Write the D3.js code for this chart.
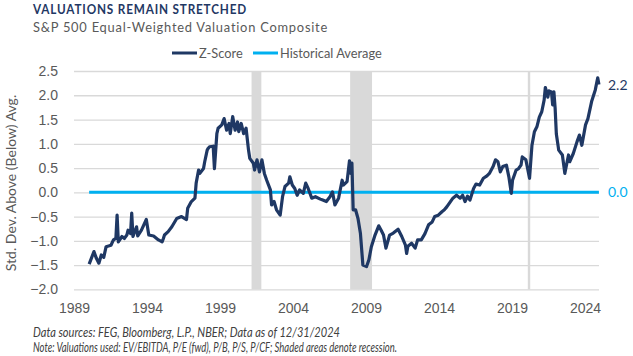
<!DOCTYPE html>
<html><head><meta charset="utf-8">
<script src="https://cdn.jsdelivr.net/npm/d3@7"></script>
<style>
html,body{margin:0;padding:0;background:#fff;}
svg{display:block;font-family:Lato,"Open Sans",sans-serif;}
</style></head>
<body>
<svg id="chart" width="633" height="356"></svg>
<script>
const dates = ["1990-01","1990-05","1990-07","1990-09","1990-11","1991-01","1991-03","1991-07","1991-09","1991-11","1991-12",
"1992-01","1992-04","1992-06","1992-08","1992-09","1992-11","1992-12","1993-01","1993-04","1993-05","1993-08","1993-12",
"1994-02","1994-06","1994-10","1995-01","1995-02","1995-03","1995-06","1995-09","1996-01","1996-05","1996-09","1996-10",
"1997-01","1997-04","1997-05","1997-07","1997-08","1997-11","1997-12","1998-02","1998-03","1998-04","1998-07","1998-08","1998-10","1998-11",
"1999-02","1999-04","1999-06","1999-08","1999-09","1999-11","2000-01","2000-03","2000-04","2000-06","2000-08","2000-10","2000-12",
"2001-01","2001-04","2001-05","2001-07","2001-09","2001-11","2002-01","2002-03","2002-06","2002-07","2002-09","2002-11",
"2003-02","2003-04","2003-06","2003-09","2003-10","2003-12","2004-02","2004-04","2004-06","2004-09","2004-11",
"2005-01","2005-04","2005-07","2005-11","2006-01","2006-04","2006-07","2006-09","2006-11","2007-02","2007-05","2007-06","2007-09","2007-11","2007-12",
"2008-01","2008-02","2008-04","2008-06","2008-08","2008-10","2009-01","2009-03","2009-05","2009-08","2009-11",
"2010-01","2010-03","2010-05","2010-08","2010-11","2011-03","2011-06","2011-09","2011-10","2011-11",
"2012-02","2012-05","2012-07","2012-10","2013-01","2013-04","2013-07","2013-09","2013-12",
"2014-03","2014-05","2014-07","2014-10","2014-12","2015-03","2015-06","2015-08","2015-10","2015-12",
"2016-02","2016-05","2016-07","2016-10","2017-01","2017-04","2017-06","2017-09","2017-11",
"2018-01","2018-03","2018-05","2018-08","2018-10","2018-12","2019-01","2019-04","2019-06","2019-08","2019-09","2019-12",
"2020-03","2020-05","2020-07","2020-09","2020-11","2021-01","2021-03","2021-04","2021-06","2021-07","2021-09","2021-10","2021-11","2021-12",
"2022-01","2022-03","2022-06","2022-08","2022-11","2022-12","2023-03","2023-06","2023-08","2023-10",
"2024-01","2024-03","2024-06","2024-09","2024-11","2024-12"];
const zscore = [-1.48,-1.22,-1.36,-1.46,-1.29,-1.34,-1.12,-1.09,-0.98,-0.95,-0.47,
-1.02,-0.91,-0.95,-0.88,-0.78,-0.85,-0.43,-0.91,-0.71,-0.90,-0.78,-0.56,
-0.88,-0.90,-0.98,-1.02,-0.95,-0.88,-0.81,-0.71,-0.54,-0.50,-0.56,-0.33,
-0.19,-0.12,0.19,0.46,0.39,0.49,0.63,0.87,0.91,0.94,0.95,0.49,1.21,1.32,
1.39,1.52,1.28,1.42,1.21,1.56,1.28,1.45,1.25,1.42,1.21,1.32,0.87,
0.70,0.60,0.46,0.67,0.42,0.67,0.39,0.25,0.05,-0.26,-0.19,-0.36,
-0.47,-0.09,0.12,0.19,0.32,0.15,0.08,-0.06,0.05,-0.02,0.19,
0.08,-0.12,-0.09,-0.14,-0.16,-0.19,-0.09,0.01,-0.26,-0.12,0.25,0.15,0.22,0.65,0.39,
0.60,-0.36,-0.36,-0.54,-0.85,-1.50,-1.53,-1.39,-1.12,-0.88,-0.69,
-0.78,-0.88,-1.15,-0.88,-0.84,-0.76,-0.91,-1.09,-1.26,-1.11,
-1.05,-1.15,-0.98,-0.98,-0.85,-0.67,-0.61,-0.50,-0.47,
-0.40,-0.36,-0.30,-0.19,-0.12,-0.06,-0.12,-0.06,-0.19,-0.08,
-0.16,0.08,0.17,0.15,0.29,0.34,0.39,0.53,0.67,
0.63,0.42,0.53,0.56,0.32,-0.02,0.25,0.46,0.49,0.56,0.73,0.67,
0.29,0.97,1.25,1.35,1.55,1.66,1.90,2.16,1.96,2.09,2.07,1.80,2.07,1.74,
1.20,0.87,0.77,0.39,0.77,0.63,0.80,1.04,1.18,0.97,
1.39,1.52,1.87,2.11,2.36,2.22];
const historicalAverage = 0.0;
const recessions = [["2001-03","2001-11"],["2007-12","2009-06"],["2020-02","2020-04"]];
const xTickYears = [1989,1994,1999,2004,2009,2014,2019,2024];
const yTickValues = [-2.0,-1.5,-1.0,-0.5,0.0,0.5,1.0,1.5,2.0,2.5];
const seriesNames = ["Z-Score","Historical Average"];
const lastLabel = "2.2";
const avgLabel = "0.0";

const navy = "#1F3864", sky = "#00B0F0", gray = "#595959";
const parseM = d3.timeParse("%Y-%m");
const mid = s => { const d = parseM(s); return new Date(d.getFullYear(), d.getMonth(), 15); };

const svg = d3.select("#chart");
const x = d3.scaleTime().domain([new Date(1989,0,1), new Date(2025,0,1)]).range([74, 599.6]);
const y = d3.scaleLinear().domain([-2, 2.5]).range([289.4, 71]);

// recession shading
svg.append("g").selectAll("rect").data(recessions).join("rect")
  .attr("x", d => x(parseM(d[0])))
  .attr("width", d => Math.max(2, x(parseM(d[1])) - x(parseM(d[0]))))
  .attr("y", y(2.5)).attr("height", y(-2) - y(2.5))
  .attr("fill", "#D9D9D9");

// gridlines
const yAxis = d3.axisLeft(y).tickValues(yTickValues).tickFormat(d3.format(".1f"))
  .tickSize(-(599 - 74)).tickPadding(16);
const gy = svg.append("g").attr("transform", "translate(74,0)").call(yAxis);
gy.select(".domain").remove();
gy.selectAll(".tick line").attr("stroke", "#D9D9D9").attr("stroke-width", 1.3);
gy.selectAll(".tick text").attr("fill", gray).style("font-size", "14px").attr("x", -16);

const xAxis = d3.axisBottom(x).tickValues(xTickYears.map(yr => new Date(yr,0,1)))
  .tickFormat(d3.timeFormat("%Y")).tickSize(0).tickPadding(14);
const gx = svg.append("g").attr("transform", `translate(0,${y(-2)})`).call(xAxis);
gx.select(".domain").remove();
gx.selectAll(".tick text").attr("fill", gray).style("font-size", "14px");

// historical average line
svg.append("line")
  .attr("x1", x(mid(dates[0]))).attr("x2", x(mid(dates[dates.length-1])))
  .attr("y1", y(historicalAverage)).attr("y2", y(historicalAverage))
  .attr("stroke", sky).attr("stroke-width", 3);

// z-score line
const pts = dates.map((d,i) => ({date: mid(d), v: zscore[i]}));
svg.append("path").datum(pts)
  .attr("fill", "none").attr("stroke", navy).attr("stroke-width", 3.2)
  .attr("stroke-linejoin", "round")
  .attr("d", d3.line().x(d => x(d.date)).y(d => y(d.v)));

// end labels
svg.append("text").attr("x", 608).attr("y", y(zscore[zscore.length-1]) + 5)
  .attr("fill", navy).style("font-size", "14px").text(lastLabel);
svg.append("text").attr("x", 608).attr("y", y(historicalAverage) + 5)
  .attr("fill", sky).style("font-size", "14px").text(avgLabel);

// legend
const leg = svg.append("g");
[[172, navy, seriesNames[0]], [253, sky, seriesNames[1]]].forEach(([lx, c, t]) => {
  leg.append("line").attr("x1", lx).attr("x2", lx + 25).attr("y1", 53).attr("y2", 53)
    .attr("stroke", c).attr("stroke-width", 3);
  leg.append("text").attr("x", lx + 27).attr("y", 57.5).attr("fill", gray)
    .style("font-size", "12.8px").text(t);
});

// y axis title
svg.append("text").attr("transform", "translate(16,183) rotate(-90)")
  .attr("text-anchor", "middle").attr("fill", gray).style("font-size", "14px")
  .text("Std. Dev. Above (Below) Avg.");

function fit(sel, w) {
  sel.attr("textLength", w).attr("lengthAdjust", "spacingAndGlyphs");
}
// titles
fit(svg.append("text").attr("x", 33).attr("y", 13.5).attr("fill", navy)
  .style("font-size", "14px").style("font-weight", "700").style("letter-spacing", "1px")
  .text("VALUATIONS REMAIN STRETCHED"), 214);
fit(svg.append("text").attr("x", 33).attr("y", 32).attr("fill", gray)
  .style("font-size", "13.5px").style("letter-spacing", "0.8px")
  .text("S&P 500 Equal-Weighted Valuation Composite"), 295);

// footer
fit(svg.append("text").attr("x", 33).attr("y", 337).attr("fill", "#404040")
  .style("font-size", "12.5px").style("font-style", "italic")
  .text("Data sources: FEG, Bloomberg, L.P., NBER; Data as of 12/31/2024"), 307);
fit(svg.append("text").attr("x", 33).attr("y", 352).attr("fill", "#404040")
  .style("font-size", "12.5px").style("font-style", "italic")
  .text("Note: Valuations used: EV/EBITDA, P/E (fwd), P/B, P/S, P/CF; Shaded areas denote recession."), 364);
</script>
</body></html>
